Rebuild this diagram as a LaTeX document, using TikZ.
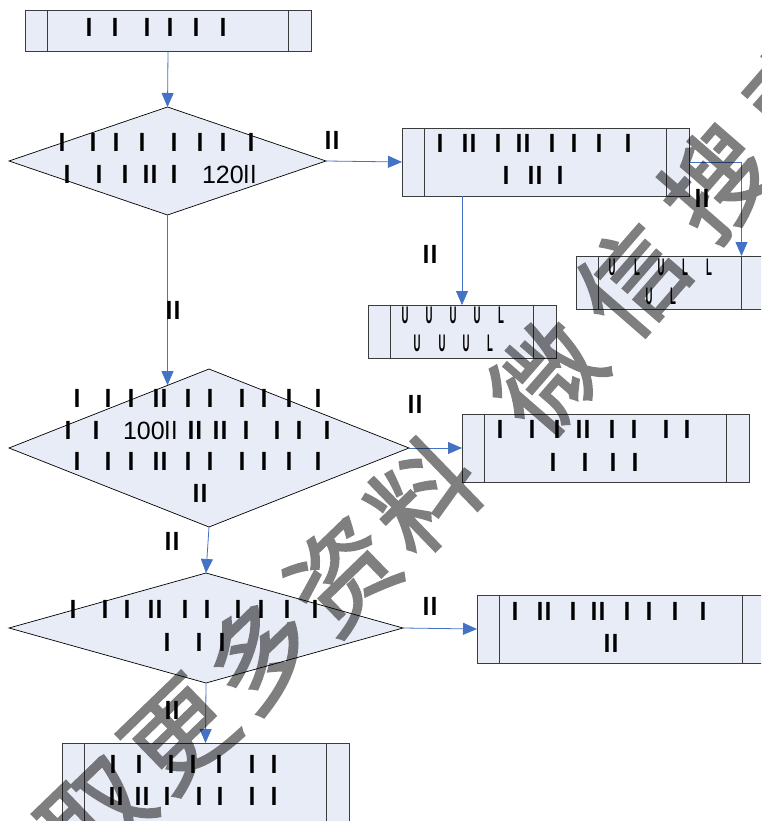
\documentclass[tikz,border=0pt]{standalone}
\usepackage{fontspec}
\setmainfont{Liberation Sans}
\newfontfamily\cjk{Noto Sans CJK SC}[FakeBold=2]
\usepackage{graphicx}
\usetikzlibrary{arrows.meta,shapes.geometric}
\definecolor{boxfill}{RGB}{232,236,247}
\definecolor{boxline}{RGB}{60,60,60}
\definecolor{arrowblue}{RGB}{68,114,196}
\newcommand\bA{\makebox[0pt]{\bfseries l}}
\newcommand\bB{\makebox[0pt]{\bfseries l\kern1pt l}}
\newcommand\gp[1]{\hspace*{#1pt}}
\newcommand\uU{\makebox[0pt]{\bfseries\scalebox{0.4}[1]{U}}}
\newcommand\uL{\makebox[0pt]{\bfseries\scalebox{0.4}[1]{L}}}
\newcommand\numtxt[1]{\makebox[0pt][l]{#1}}
\newcommand\wmkl{\kern9pt}
\newcommand\wmkr{\kern24pt}
\tikzset{
 proc/.style={draw=boxline, line width=0.8pt, fill=boxfill, rectangle, inner sep=0pt, outer sep=0pt,
   path picture={\draw[boxline, line width=0.8pt]
     ([xshift=22.5pt]path picture bounding box.north west) -- ([xshift=22.5pt]path picture bounding box.south west)
     ([xshift=-22.5pt]path picture bounding box.north east) -- ([xshift=-22.5pt]path picture bounding box.south east);}},
 dec/.style={draw=black, line width=0.7pt, fill=boxfill, diamond, inner sep=0pt, outer sep=0pt},
 txt/.style={inner sep=0pt, outer sep=0pt, anchor=base west, font=\fontsize{25}{30}\selectfont},
 utxt/.style={inner sep=0pt, outer sep=0pt, anchor=base west, font=\fontsize{24}{30}\selectfont},
 lbl/.style={inner sep=0pt, outer sep=0pt, anchor=base, font=\fontsize{25}{30}\selectfont},
 flow/.style={draw=arrowblue, line width=0.8pt, -{Triangle[length=14pt,width=12pt]}},
 wmark/.style={inner sep=0pt, outer sep=0pt, text=black, font=\cjk\fontsize{105}{110}\selectfont}
}
\begin{document}
\begin{tikzpicture}[x=1pt,y=-1pt]
\useasboundingbox (0,0) rectangle (761,821);
\clip (0,0) rectangle (761,821);
% process boxes
\node[proc, minimum width=286pt, minimum height=41.5pt] (b1) at (168,30.75) {};
\node[proc, minimum width=287pt, minimum height=68pt] (b2) at (545.5,162) {};
\node[proc, minimum width=188pt, minimum height=53pt] (b3) at (462,331.5) {};
\node[proc, minimum width=188pt, minimum height=53pt] (b4) at (670,282.5) {};
\node[proc, minimum width=287pt, minimum height=68pt] (b5) at (605.5,448) {};
\node[proc, minimum width=287.5pt, minimum height=68pt] (b6) at (620.75,629) {};
\node[proc, minimum width=287pt, minimum height=100pt] (b7) at (205.5,793) {};
% decisions
\node[dec, minimum width=317pt, minimum height=108pt] (d1) at (167.5,161) {};
\node[dec, minimum width=400pt, minimum height=158pt] (d2) at (209,448) {};
\node[dec, minimum width=394pt, minimum height=110pt] (d3) at (206,628) {};
% connectors
\draw[flow] (b1.south) -- (d1.north);
\draw[flow] (d1.east) -- (b2.west);
\draw[flow] (b3.north |- b2.south) -- (b3.north);
\draw[flow] (b2.east) -| ([xshift=-22.5pt]b4.north east);
\draw[flow] (d1.south) -- (d1.south |- d2.123);
\draw[flow] (d2.east) -- (b5.west);
\draw[flow] (d2.south) -- (d3.north);
\draw[flow] (d3.east) -- (b6.west);
\draw[flow] (d3.south) -- (b7.north);
% texts
\node[txt] (t1) at (89,37) {\bA\gp{26}\bA\gp{32}\bA\gp{23}\bA\gp{26}\bA\gp{27}\bA};
\node[txt] (d1a) at (62,152) {\bA\gp{31}\bA\gp{23}\bA\gp{26}\bA\gp{32}\bA\gp{26}\bA\gp{23}\bA\gp{28}\bA};
\node[txt] (d1b) at (67,183) {\bA\gp{32}\bA\gp{26}\bA\gp{25}\bB\gp{24}\bA\gp{28}\numtxt{120l\kern1.5pt l}};
\node[txt] (b2a) at (440,153) {\bA\gp{29}\bB\gp{29}\bA\gp{25}\bB\gp{29}\bA\gp{22}\bA\gp{25}\bA\gp{29}\bA};
\node[txt] (b2b) at (506,185) {\bA\gp{29}\bB\gp{25}\bA};
\node[utxt] (b3a) at (405,323) {\uU\gp{24}\uU\gp{24}\uU\gp{24}\uU\gp{24}\uL};
\node[utxt] (b3b) at (417,351) {\uU\gp{25}\uU\gp{24}\uU\gp{24}\uL};
\node[utxt] (b4a) at (612,275) {\uU\gp{25}\uL\gp{24}\uU\gp{24}\uL\gp{24}\uL};
\node[utxt] (b4b) at (649,304) {\uU\gp{24}\uL};
\node[txt] (d2a) at (77,407) {\bA\gp{31}\bA\gp{23}\bA\gp{29}\bB\gp{28}\bA\gp{22}\bA\gp{32}\bA\gp{22}\bA\gp{25}\bA\gp{29}\bA};
\node[txt] (d2b) at (68,439) {\bA\gp{28}\bA\gp{27}\numtxt{100l\kern1.5pt l}\gp{72}\bB\gp{25}\bB\gp{26}\bA\gp{31}\bA\gp{22}\bA\gp{28}\bA};
\node[txt] (d2c) at (77,470) {\bA\gp{31}\bA\gp{23}\bA\gp{29}\bB\gp{28}\bA\gp{22}\bA\gp{32}\bA\gp{22}\bA\gp{25}\bA\gp{29}\bA};
\node[lbl] (d2d) at (200,502) {\bB};
\node[txt] (b5a) at (500,438) {\bA\gp{32}\bA\gp{25}\bA\gp{26}\bB\gp{29}\bA\gp{22}\bA\gp{32}\bA\gp{21}\bA};
\node[txt] (b5b) at (553,471) {\bA\gp{32}\bA\gp{28}\bA\gp{22}\bA};
\node[txt] (d3a) at (73,618) {\bA\gp{32}\bA\gp{22}\bA\gp{28}\bB\gp{30}\bA\gp{22}\bA\gp{31}\bA\gp{23}\bA\gp{26}\bA\gp{28}\bA};
\node[txt] (d3b) at (167,651) {\bA\gp{32}\bA\gp{23}\bA};
\node[txt] (b6a) at (515,620) {\bA\gp{29}\bB\gp{29}\bA\gp{25}\bB\gp{29}\bA\gp{22}\bA\gp{26}\bA\gp{28}\bA};
\node[lbl] (b6b) at (611,652) {\bB};
\node[txt] (b7a) at (113,773) {\bA\gp{26}\bA\gp{32}\bA\gp{22}\bA\gp{26}\bA\gp{33}\bA\gp{22}\bA};
\node[txt] (b7b) at (116,805) {\bB\gp{26}\bB\gp{25}\bA\gp{32}\bA\gp{21}\bA\gp{32}\bA\gp{22}\bA};
% connector labels
\node[lbl] (l1) at (332,150) {\bB};
\node[lbl] (l2) at (430,263) {\bB};
\node[lbl] (l3) at (702,207) {\bB};
\node[lbl] (l4) at (173,319) {\bB};
\node[lbl] (l5) at (415,413) {\bB};
\node[lbl] (l6) at (172,550) {\bB};
\node[lbl] (l7) at (430,615) {\bB};
\node[lbl] (l8) at (172,719) {\bB};
% watermark
\begin{scope}[transparency group, opacity=0.5]
\node[wmark, rotate=44] (wmA) at (219,693.4) {获\wmkl 取\wmkl 更\wmkl 多\wmkl 资\wmkl 料};
\node[wmark, rotate=49] (wmB) at (674,231) {微\wmkr 信\wmkr 搜\wmkr 索};
\end{scope}
\end{tikzpicture}
\end{document}
